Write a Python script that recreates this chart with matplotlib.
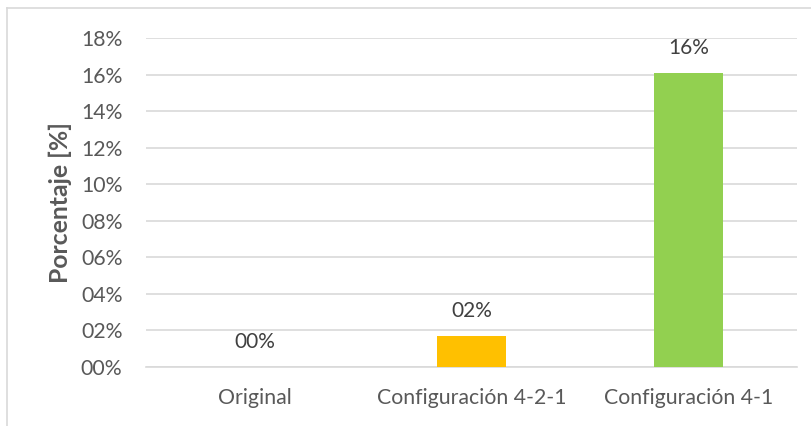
import matplotlib.pyplot as plt
from matplotlib.ticker import FuncFormatter

# data
categories = ['Original', 'Configuración 4-2-1', 'Configuración 4-1']
values = [0.0, 0.017, 0.161]
colors = ['#4472C4', '#FFC000', '#92D050']
yticks = [0.00, 0.02, 0.04, 0.06, 0.08, 0.10, 0.12, 0.14, 0.16, 0.18]

plt.rcParams['font.family'] = ['Lato', 'DejaVu Sans']
txt = '#595959'

fig = plt.figure(figsize=(8.11, 4.26), dpi=100)
ax = fig.add_axes([146/811, 1-367/426, 651/811, 329/426])

x = range(len(categories))
bars = ax.bar(x, values, width=0.318, color=colors, zorder=3)

# value labels above the bars
for b, v in zip(bars, values):
    ax.annotate('{:02.0f}%'.format(v*100), (b.get_x()+b.get_width()/2, v),
                xytext=(0, 18), textcoords='offset points', ha='center', va='center',
                fontsize=15, color='#404040')

ax.set_xlim(-0.5, 2.5)
ax.set_ylim(0, 0.18)
ax.set_yticks(yticks)
ax.yaxis.set_major_formatter(FuncFormatter(lambda v, p: '{:02.0f}%'.format(v*100)))
ax.set_xticks(list(x))
ax.set_xticklabels(categories)
ax.tick_params(length=0, labelsize=15.3, colors=txt)
ax.tick_params(axis='x', pad=15)
ax.tick_params(axis='y', pad=17)
ax.grid(axis='y', color='#d9d9d9', linewidth=1.2, zorder=0)
for s in ['top', 'right', 'left']:
    ax.spines[s].set_visible(False)
ax.spines['bottom'].set_color('#d9d9d9')
ax.spines['bottom'].set_linewidth(1.2)

ax.set_ylabel('Porcentaje [%]', fontsize=17.8, fontweight='bold', color=txt)
ax.yaxis.set_label_coords((72-146)/651, 0.5)

# chart-area border (only top and left visible in the crop)
fig.add_artist(plt.Line2D([7/811, 1], [1-8/426, 1-8/426], transform=fig.transFigure, color='#d9d9d9', lw=1.2))
fig.add_artist(plt.Line2D([7/811, 7/811], [0, 1-8/426], transform=fig.transFigure, color='#d9d9d9', lw=1.2))

fig.savefig('out.png', dpi=100)
